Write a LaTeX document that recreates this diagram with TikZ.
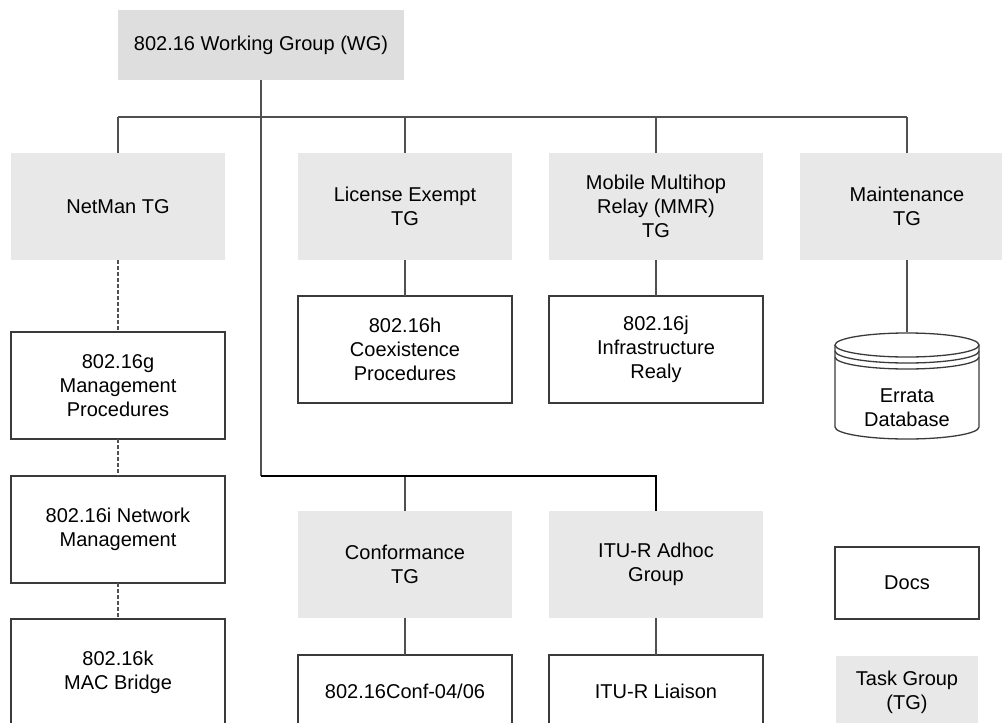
\documentclass[tikz,border=0pt]{standalone}
\usepackage{fontspec}
\setmainfont{Liberation Sans}
\usepackage{xcolor}
\usepackage{tikz}
\usetikzlibrary{calc}
\usetikzlibrary{positioning}

\definecolor{tgfill}{HTML}{E8E8E8}
\definecolor{wgfill}{HTML}{DEDEDE}
\definecolor{lineclr}{HTML}{505050}
\definecolor{boxclr}{HTML}{3A3A3A}

\begin{document}
\begin{tikzpicture}[x=1pt,y=-1pt,-,auto,node distance=36pt,line width=1.2pt]
  \tikzstyle{grp}=[rectangle, fill=tgfill, minimum width=214pt, minimum height=107pt, inner sep=0pt, outer sep=0pt, align=center, font=\fontsize{20}{24}\selectfont]
  \tikzstyle{wgbox}=[grp, fill=wgfill, minimum width=286pt, minimum height=70pt]
  \tikzstyle{doc}=[grp, fill=white, draw=boxclr, line width=1.4pt]
  \tikzstyle{smalldoc}=[doc, minimum width=144pt, minimum height=72pt]
  \tikzstyle{lbl}=[inner sep=0pt, align=center, font=\fontsize{20}{24}\selectfont]
  \tikzstyle{conn}=[draw=lineclr, line width=1.2pt]
  \tikzstyle{dashconn}=[conn, dash pattern=on 4pt off 2pt]
  \tikzstyle{busline}=[draw=black, line width=2.2pt]
  \tikzstyle{cyl}=[draw=boxclr, line width=1.3pt]

  \path[use as bounding box] (0,0) rectangle (1002,723);
  \clip (0,0) rectangle (1002,723);

  % working group and task groups
  \node[wgbox] (wg) at (261,45) {802.16 Working Group (WG)};
  \node[grp] (netman) at (118,206.5) {NetMan TG};
  \node[grp] (lexempt) [right=73pt of netman] {License Exempt\\TG};
  \node[grp] (mmr) [right=37pt of lexempt] {Mobile Multihop\\Relay (MMR)\\TG};
  \node[grp] (maint) [right=37pt of mmr] {Maintenance\\TG};

  % projects
  \node[doc] (g) [below=72pt of netman] {802.16g\\Management\\Procedures};
  \node[doc] (i) [below=37pt of g] {802.16i Network\\Management};
  \node[doc] (k) [below=36pt of i] {802.16k\\MAC Bridge};
  \node[doc] (h) [below=36pt of lexempt] {802.16h\\Coexistence\\Procedures};
  \node[doc] (j) [below=36pt of mmr] {802.16j\\Infrastructure\\Realy};
  \node[grp] (conf) [below=108pt of h] {Conformance\\TG};
  \node[grp] (itur) [below=108pt of j] {ITU-R Adhoc\\Group};
  \node[doc, minimum height=72pt] (confdoc) [below=37pt of conf] {802.16Conf-04/06};
  \node[doc, minimum height=72pt] (liaison) [below=37pt of itur] {ITU-R Liaison};
  \node[minimum width=144pt, minimum height=108pt, inner sep=0pt, outer sep=0pt] (errata) [below=72pt of maint] {};
  \node[smalldoc] (docs) [below=107pt of errata] {Docs};
  \node[grp, minimum width=142pt, minimum height=72pt] (key) [below=37pt of docs] {Task Group\\(TG)};

  % database drum
  \draw[cyl] ($(errata.center)+(-72,-41)$) -- ++(0,82)
    arc[start angle=180, end angle=360, x radius=72pt, y radius=12pt] -- ++(0,-82);
  \draw[cyl] ($(errata.center)+(0,-41)$) ellipse [x radius=72pt, y radius=12pt];
  \draw[cyl] ($(errata.center)+(-72,-35)$) arc[start angle=180, end angle=360, x radius=72pt, y radius=12pt];
  \draw[cyl] ($(errata.center)+(-72,-29)$) arc[start angle=180, end angle=360, x radius=72pt, y radius=12pt];
  \node[lbl] (errtxt) at ($(errata.center)+(0,22)$) {Errata\\Database};

  \coordinate (bus) at (261,117);
  \coordinate (bus2) at (261,476);

  \path[conn]
    (wg) edge (bus2)
    (netman) edge (netman |- bus)
    (lexempt) edge (lexempt |- bus)
    (mmr) edge (mmr |- bus)
    (maint) edge (maint |- bus)
    (lexempt) edge (h)
    (mmr) edge (j)
    (maint) edge (errata)
    (conf) edge (conf |- bus2)
    (conf) edge (confdoc)
    (itur) edge (liaison);
  \draw[conn] (netman |- bus) -- (maint |- bus);
  \draw[busline] (bus2) -| (itur);
  \path[dashconn]
    (netman) edge (g)
    (g) edge (i)
    (i) edge (k);
\end{tikzpicture}
\end{document}
